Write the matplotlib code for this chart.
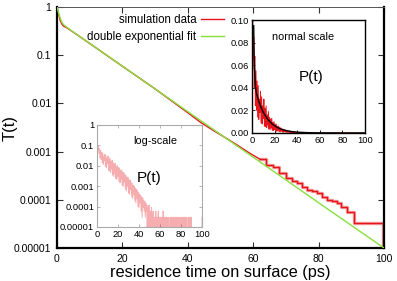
import numpy as np
import matplotlib
matplotlib.use("Agg")
import matplotlib.pyplot as plt

plt.rcParams['font.family'] = ['Liberation Sans', 'DejaVu Sans']

# ---- main panel: survival function T(t) ----
fit_t = [0, 0.5, 1, 1.5, 2, 3, 5, 10, 20, 40, 60, 80, 100]
fit_T = [1.0, 0.75, 0.58, 0.48, 0.43, 0.38, 0.302, 0.176, 0.0593, 0.00675, 7.67e-4, 8.7e-5, 1.0e-5]

sim_t_smooth = [0, 0.5, 1, 1.5, 2, 3, 5, 10, 20, 30, 40, 44, 48, 52, 56, 59, 62]
sim_T_smooth = [1.0, 0.70, 0.52, 0.44, 0.40, 0.37, 0.30, 0.175, 0.059, 0.020, 0.0064,
                0.0040, 0.0027, 0.00185, 0.00125, 0.00092, 0.00070]
sim_t_steps = [62, 64, 66, 68, 70, 72, 73.4, 75, 76.5, 78, 79.5, 81, 82.6, 84, 85.6,
               87, 88.7, 90.8, 99.7, 100]
sim_T_steps = [7.0e-4, 5.3e-4, 4.7e-4, 3.6e-4, 2.9e-4, 2.5e-4, 2.2e-4, 1.8e-4, 1.6e-4,
               1.5e-4, 1.4e-4, 1.17e-4, 1.0e-4, 9.5e-5, 8.5e-5, 7.1e-5, 5.6e-5, 3.3e-5,
               1.05e-5, 1.0e-5]

# ---- insets: distribution P(t), sampled every 0.5 ps ----
p_head = [0.9, 0.12, 0.065, 0.085, 0.040, 0.068, 0.024, 0.055, 0.020, 0.046,
          0.014, 0.042, 0.012, 0.030, 0.018, 0.037, 0.009, 0.032, 0.008, 0.024,
          0.013, 0.030, 0.006, 0.022, 0.0055, 0.024, 0.0048, 0.016, 0.0070, 0.019,
          0.0035, 0.014, 0.0030, 0.0125, 0.0042, 0.013, 0.0024, 0.0095, 0.0021, 0.0100,
          0.0030, 0.0080, 0.0017, 0.0078, 0.0015, 0.0060, 0.0022, 0.0062, 0.0011, 0.0048,
          0.0010, 0.0046, 0.0016, 0.0036, 0.0007, 0.0035, 0.0006, 0.0028, 0.0010, 0.0027,
          0.00045, 0.0021, 0.0004, 0.0020, 0.0007, 0.0015, 0.0003, 0.0014, 0.00025, 0.0011,
          0.0004, 0.0010, 0.0002, 0.0008, 0.00015, 0.0007, 0.00025, 0.0006, 0.0001, 0.0005,
          0.00009, 0.00042, 0.00015, 0.00036, 0.00006, 0.0003, 0.00003, 0.00027, 0.00009, 0.00021,
          0.00006, 0.00018, 0.00003, 0.00015, 0.00006, 0.00012, 0.0, 0.00009, 0.0, 0.00012,
          0.0]
p_tail = [6e-5, 0, 3e-5, 9e-5, 0, 3e-5, 6e-5, 0, 3e-5, 3e-5,
          0, 6e-5, 0, 3e-5, 0, 3e-5, 6e-5, 0, 3e-5, 0,
          3e-5, 3e-5, 0, 3e-5, 0, 6e-5, 0, 3e-5, 0, 3e-5,
          3e-5, 0, 3e-5, 0, 3e-5, 0, 3e-5, 0, 0, 3e-5,
          0, 3e-5, 3e-5, 0, 3e-5, 0, 3e-5, 0, 0, 3e-5,
          0, 3e-5, 0, 3e-5, 3e-5, 0, 3e-5, 0, 0, 3e-5,
          0, 3e-5, 0, 3e-5, 0, 0, 3e-5, 0, 3e-5, 0,
          3e-5, 0, 0, 3e-5, 0, 3e-5, 0, 3e-5, 0, 3e-5,
          0, 0, 0, 0, 0, 0, 0, 0, 0, 0,
          0, 0, 0, 0, 0, 0, 0, 0, 0, 3e-5]
p_vals = np.array(p_head + p_tail)
p_t = np.arange(len(p_vals)) * 0.5

pfit_t = [1.5, 2, 3, 4, 6, 8, 10, 14, 18, 22, 26, 30, 35, 40, 50, 60, 80, 100]
pfit_P = [0.095, 0.061, 0.041, 0.035, 0.028, 0.0227, 0.0183, 0.0120, 0.0078, 0.0051,
          0.0033, 0.0022, 0.0013, 0.00075, 0.00026, 0.00009, 0.00001, 0.000001]

xticks = [0, 20, 40, 60, 80, 100]
main_yticks = [1, 0.1, 0.01, 0.001, 0.0001, 0.00001]
main_ylabels = ['1', '0.1', '0.01', '0.001', '0.0001', '0.00001']
norm_yticks = [0.0, 0.02, 0.04, 0.06, 0.08, 0.10]
norm_ylabels = ['0.00', '0.02', '0.04', '0.06', '0.08', '0.10']

RED = '#e8141c'
GREEN = '#86e03c'

W, H = 397, 281
fig = plt.figure(figsize=(W / 100, H / 100), dpi=100)

def frac(x0, y0, x1, y1):
    return [x0 / W, 1 - y1 / H, (x1 - x0) / W, (y1 - y0) / H]

ax = fig.add_axes(frac(57, 7, 384, 248))
ax.plot(sim_t_smooth, sim_T_smooth, color=RED, lw=1.0, zorder=2, label='simulation data')
ax.plot(sim_t_steps, sim_T_steps, color='#f4a0a0', lw=2.4, drawstyle='steps-post', zorder=1)
ax.plot(sim_t_steps, sim_T_steps, color=RED, lw=1.0, drawstyle='steps-post', zorder=2)
ax.plot(fit_t, fit_T, color=GREEN, lw=1.0, zorder=3, label='double exponential fit')
ax.set_yscale('log')
ax.set_xlim(0, 100)
ax.set_ylim(1e-5, 1)
ax.set_xticks(xticks)
ax.set_xticklabels([str(v) for v in xticks], fontsize=7.5)
ax.set_yticks(main_yticks)
ax.set_yticklabels(main_ylabels, fontsize=7.5)
ax.minorticks_off()
ax.tick_params(direction='in', length=4, width=0.8, top=True, right=True, pad=4, color='#333333')
for s in ['left', 'bottom', 'right']:
    ax.spines[s].set_linewidth(1.6)
ax.spines['top'].set_linewidth(0.7)
ax.spines['top'].set_color('#555555')
ax.set_xlabel('residence time on surface (ps)', fontsize=11.8, labelpad=1)
fig.text(10 / W, 1 - 128 / H, 'T(t)', rotation=90, ha='center', va='center', fontsize=12)
leg = ax.legend(loc='upper right', bbox_to_anchor=(224 / W, 1 - 14 / H),
                bbox_transform=fig.transFigure, frameon=False, markerfirst=False,
                fontsize=8.3, handlelength=2.0, handletextpad=0.4, labelspacing=0.45,
                borderpad=0, borderaxespad=0)

# normal-scale inset
ax1 = fig.add_axes(frac(252, 20, 365, 133))
ax1.plot(p_t, p_vals, color=RED, lw=0.7)
ax1.plot(pfit_t, pfit_P, color='black', lw=1.0)
ax1.set_xlim(0, 100)
ax1.set_ylim(0, 0.10)
ax1.set_xticks(xticks)
ax1.set_xticklabels([str(v) for v in xticks], fontsize=6.7)
ax1.set_yticks(norm_yticks)
ax1.set_yticklabels(norm_ylabels, fontsize=6.7)
ax1.tick_params(direction='in', length=2, width=0.6, pad=2)
for s in ax1.spines.values():
    s.set_linewidth(1.0)
ax1.text(0.45, 0.85, 'normal scale', transform=ax1.transAxes, ha='center', va='center', fontsize=7.8)
ax1.text(0.52, 0.50, 'P(t)', transform=ax1.transAxes, ha='center', va='center', fontsize=11)

# log-scale inset
ax2 = fig.add_axes(frac(97, 125, 202, 227))
ax2.plot(p_t, p_vals, color=RED, lw=0.7, alpha=0.35)
ax2.set_yscale('log')
ax2.set_xlim(0, 100)
ax2.set_ylim(1e-5, 1)
ax2.set_xticks(xticks)
ax2.set_xticklabels([str(v) for v in xticks], fontsize=6.7)
ax2.set_yticks(main_yticks)
ax2.set_yticklabels(main_ylabels, fontsize=6.7)
ax2.minorticks_off()
ax2.tick_params(direction='in', length=2, width=0.5, pad=2, color='#999999', top=True, right=True)
for s in ax2.spines.values():
    s.set_linewidth(0.8)
    s.set_color('#aaaaaa')
ax2.text(0.55, 0.84, 'log-scale', transform=ax2.transAxes, ha='center', va='center', fontsize=7.8)
ax2.text(0.50, 0.48, 'P(t)', transform=ax2.transAxes, ha='center', va='center', fontsize=11)

fig.savefig('out.png', dpi=100)
